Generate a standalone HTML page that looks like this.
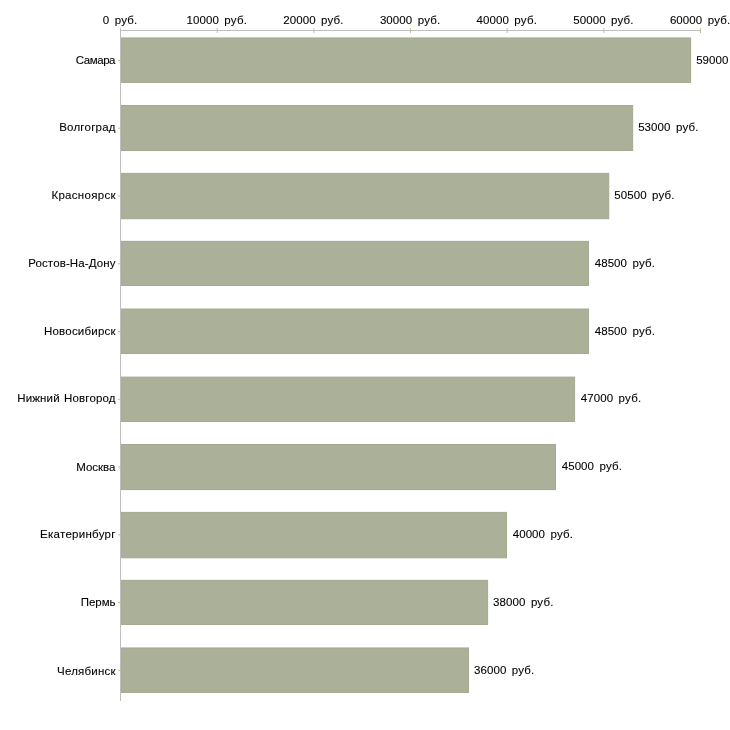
<!DOCTYPE html>
<html><head><meta charset="utf-8">
<style>
html,body{margin:0;padding:0;background:#fff;}
body{width:730px;height:730px;position:relative;overflow:hidden;}
svg{position:absolute;left:0;top:0;}
#tx{position:absolute;left:0;top:0;width:730px;height:730px;will-change:transform;font-family:"Liberation Sans",sans-serif;font-size:11.5px;letter-spacing:0.25px;word-spacing:1.0px;color:#000;-webkit-text-stroke:0.1px #000;}
.t{position:absolute;white-space:nowrap;line-height:14px;height:14px;}
.c{text-align:right;right:614.25px;}
.x{text-align:center;width:120px;top:13px;}
.n{letter-spacing:0.2px;word-spacing:2px;}
.n b{font-weight:normal;letter-spacing:0.08px;}
</style></head><body>
<svg width="730" height="730" viewBox="0 0 730 730">

<rect x="120.8" y="37.95" width="569.85" height="44.45" fill="#abb098" stroke="#a5a990" stroke-width="1"/>
<rect x="120.8" y="105.50" width="511.85" height="45.00" fill="#abb098" stroke="#a5a990" stroke-width="1"/>
<rect x="120.8" y="173.40" width="487.95" height="45.30" fill="#abb098" stroke="#a5a990" stroke-width="1"/>
<rect x="120.8" y="241.35" width="467.70" height="44.15" fill="#abb098" stroke="#a5a990" stroke-width="1"/>
<rect x="120.8" y="309.00" width="467.70" height="44.50" fill="#abb098" stroke="#a5a990" stroke-width="1"/>
<rect x="120.8" y="377.10" width="453.80" height="44.40" fill="#abb098" stroke="#a5a990" stroke-width="1"/>
<rect x="120.8" y="444.50" width="434.70" height="45.10" fill="#abb098" stroke="#a5a990" stroke-width="1"/>
<rect x="120.8" y="512.40" width="385.70" height="45.40" fill="#abb098" stroke="#a5a990" stroke-width="1"/>
<rect x="120.8" y="580.35" width="366.80" height="44.15" fill="#abb098" stroke="#a5a990" stroke-width="1"/>
<rect x="120.8" y="647.95" width="347.70" height="44.45" fill="#abb098" stroke="#a5a990" stroke-width="1"/>
<rect x="120" y="30" width="581" height="1" fill="#bebebe"/>
<rect x="120.00" y="28" width="1" height="5" fill="#c2c296"/>
<rect x="216.67" y="28" width="1" height="5" fill="#c2c296"/>
<rect x="313.33" y="28" width="1" height="5" fill="#c2c296"/>
<rect x="410.00" y="28" width="1" height="5" fill="#c2c296"/>
<rect x="506.67" y="28" width="1" height="5" fill="#c2c296"/>
<rect x="603.33" y="28" width="1" height="5" fill="#c2c296"/>
<rect x="700.00" y="28" width="1" height="5" fill="#c2c296"/>
<rect x="120" y="30" width="1" height="671" fill="#bebebe"/>
<rect x="118" y="59.95" width="3" height="1" fill="#c2c296"/>
<rect x="118" y="127.70" width="3" height="1" fill="#c2c296"/>
<rect x="118" y="195.50" width="3" height="1" fill="#c2c296"/>
<rect x="118" y="263.30" width="3" height="1" fill="#c2c296"/>
<rect x="118" y="331.00" width="3" height="1" fill="#c2c296"/>
<rect x="118" y="398.80" width="3" height="1" fill="#c2c296"/>
<rect x="118" y="466.50" width="3" height="1" fill="#c2c296"/>
<rect x="118" y="534.40" width="3" height="1" fill="#c2c296"/>
<rect x="118" y="602.00" width="3" height="1" fill="#c2c296"/>
<rect x="118" y="669.80" width="3" height="1" fill="#c2c296"/>
</svg>
<div id="tx">
<div class="t x n" style="left:60.17px"><b>0</b> руб.</div>
<div class="t x n" style="left:156.84px"><b>10000</b> руб.</div>
<div class="t x n" style="left:253.50px"><b>20000</b> руб.</div>
<div class="t x n" style="left:350.17px"><b>30000</b> руб.</div>
<div class="t x n" style="left:446.84px"><b>40000</b> руб.</div>
<div class="t x n" style="left:543.50px"><b>50000</b> руб.</div>
<div class="t x n" style="left:640.17px"><b>60000</b> руб.</div>
<div class="t c" style="top:53px;letter-spacing:-0.42px;right:614.92px">Самара</div>
<div class="t n" style="left:696.15px;top:53px"><b>59000</b> руб.</div>
<div class="t c" style="top:120px;letter-spacing:0.22px;right:614.28px">Волгоград</div>
<div class="t n" style="left:638.15px;top:120px"><b>53000</b> руб.</div>
<div class="t c" style="top:188px;letter-spacing:0.30px;right:614.20px">Красноярск</div>
<div class="t n" style="left:614.25px;top:188px"><b>50500</b> руб.</div>
<div class="t c" style="top:256px;letter-spacing:0.12px;right:614.38px">Ростов-На-Дону</div>
<div class="t n" style="left:594.70px;top:256px"><b>48500</b> руб.</div>
<div class="t c" style="top:324px;letter-spacing:0.21px;right:614.29px">Новосибирск</div>
<div class="t n" style="left:594.70px;top:324px"><b>48500</b> руб.</div>
<div class="t c" style="top:391px;letter-spacing:0.15px;right:614.35px">Нижний Новгород</div>
<div class="t n" style="left:580.80px;top:391px"><b>47000</b> руб.</div>
<div class="t c" style="top:460px;letter-spacing:0.00px;right:614.50px">Москва</div>
<div class="t n" style="left:561.70px;top:459px"><b>45000</b> руб.</div>
<div class="t c" style="top:527px;letter-spacing:0.28px;right:614.22px">Екатеринбург</div>
<div class="t n" style="left:512.70px;top:527px"><b>40000</b> руб.</div>
<div class="t c" style="top:595px;letter-spacing:-0.03px;right:614.53px">Пермь</div>
<div class="t n" style="left:493.10px;top:595px"><b>38000</b> руб.</div>
<div class="t c" style="top:664px;letter-spacing:0.21px;right:614.29px">Челябинск</div>
<div class="t n" style="left:474.00px;top:663px"><b>36000</b> руб.</div>
</div>
</body></html>
